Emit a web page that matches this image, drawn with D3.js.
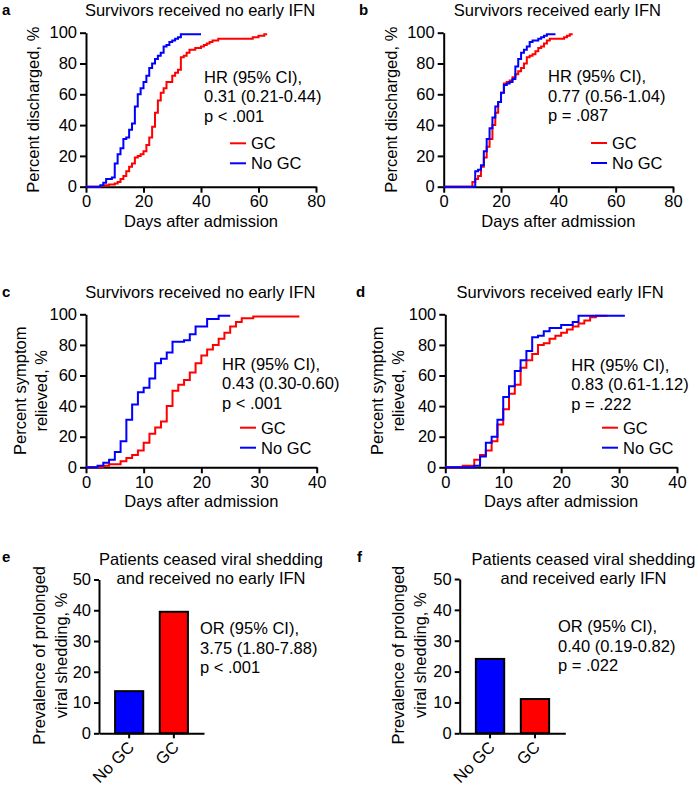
<!DOCTYPE html>
<html>
<head>
<meta charset="utf-8">
<script src="https://cdn.jsdelivr.net/npm/d3@7"></script>
<style>
  body { margin: 0; background: #fff; }
  svg { display: block; font-family: "Liberation Sans", Arial, sans-serif; }
</style>
</head>
<body>
<svg id="fig" width="698" height="790"></svg>
<script>
// ---- data ----
// a: discharge, no early IFN
const aGcDays = [0,5,6,8,10,11,12,13,14,15,16,17,18,19,20,21,22,23,24,25,26,27,28,30,31,32,33,34,35,36,38,40,41,42,43,44,46,58,60,62,63];
const aGcPct  = [0,0.5,1,1.5,2,3,5,7,10,13,15,19,20,21,23,27,32,39,48,56,61,64,68,72,74,76,84,85,87,89,90,91,92,93,94,95,96,97,98,99,99];
const aNoDays = [0,5,6,7,9,10,11,12,13,14,15,16,17,18,19,20,21,22,23,24,25,26,27,28,29,30,31,32,33,40];
const aNoPct  = [0,1,2.5,5,6,15,21,25,31,32,37,41,52,60,64,68,72,77,80,83,85,87,91,92,94,95,96,97,99,99];
// b: discharge, early IFN
const bGcDays = [0,10,11,12,13,14,15,16,17,18,19,20,21,22,23,24,25,26,27,28,29,30,31,32,33,34,35,36,37,42,43,44,45];
const bGcPct  = [0,3,5,7,13,19,26,31,40,48,55,61,67,68,69,71,73,75,77,80,84,85,86,88,90,91,93,95,96,97,98,99,99];
const bNoDays = [0,11,12,13,14,15,16,17,18,19,20,21,22,23,24,25,26,27,28,29,30,31,33,34,35,36,39];
const bNoPct  = [0,10,11,14,23,31,38,45,52,55,61,66,67,68,70,78,83,87,89,91,94,95,96,97,98,99,99];
// c: symptom relief, no early IFN
const cGcDays = [0,3,4,6,7,8,9,10,11,12,13,14,15,16,17,18,19,20,21,22,23,24,25,26,27,29,37];
const cGcPct  = [0,1,2,4,6,8,11,16,22,26,30,40,50,54,57,62,68,73,77,80,84,88,92,95,97.5,98.5,98.5];
const cNoDays = [0,2,3,4,5,6,7,8,9,10,11,12,13,14,15,17,18,19,21,23,25];
const cNoPct  = [0,1,3,5,10,17,31,41,49,52,58,68,71,75,82,83,87,92,97,99,99];
// d: symptom relief, early IFN
const dGcDays = [0,3,5,6,7,8,9,10,11,12,13,14,15,16,17,18,19,20,21,22,23,24,25,26,28];
const dGcPct  = [0,1,5,8,11,17,28,38,48,54,65,70,74,80,81,84,86,88,90,92,94,96,98,99,99];
const dNoDays = [0,5,6,7,8,9,10,11,12,13,14,15,16,17,18,20,22,23,31];
const dNoPct  = [0,1,7,16,20,31,46,53,63,70,76,85,86,89,91,93,95,99,99];
// e, f: prolonged viral shedding
const barCats = ["No GC", "GC"];
const eVals = [13.7, 39.5];
const fVals = [24.1, 11.1];

const kmTicks80 = [0, 20, 40, 60, 80];
const kmTicks40 = [0, 10, 20, 30, 40];
const pctTicks = [0, 20, 40, 60, 80, 100];
const barTicks = [0, 10, 20, 30, 40, 50];

const RED = "#ff0000", BLUE = "#0000ff";
const FS = 16.5;

const svg = d3.select("#fig");

function styleAxis(g) {
  g.selectAll("path.domain").attr("stroke", "#000").attr("stroke-width", 2);
  g.selectAll(".tick line").attr("stroke", "#000").attr("stroke-width", 2);
  g.selectAll(".tick text").attr("fill", "#000").style("font-size", FS + "px")
    .style("font-family", "'Liberation Sans', Arial, sans-serif");
}

function txt(x, y, s, opt = {}) {
  return svg.append("text")
    .attr("x", x).attr("y", y)
    .attr("text-anchor", opt.anchor || "start")
    .style("font-size", (opt.size || FS) + "px")
    .style("font-weight", opt.bold ? "bold" : "normal")
    .text(s);
}

function vlabel(x, y, s) {
  svg.append("text")
    .attr("transform", `translate(${x},${y}) rotate(-90)`)
    .attr("text-anchor", "middle")
    .style("font-size", FS + "px")
    .text(s);
}

function km(p) {
  const x = d3.scaleLinear().domain([0, p.xMax]).range([p.x0, p.x1]);
  const y = d3.scaleLinear().domain([0, 100]).range([p.y0, p.y1]);

  styleAxis(svg.append("g").attr("transform", `translate(0,${p.y0})`)
    .call(d3.axisBottom(x).tickValues(p.xTicks).tickSize(6).tickSizeOuter(0).tickPadding(3)));
  styleAxis(svg.append("g").attr("transform", `translate(${p.x0},0)`)
    .call(d3.axisLeft(y).tickValues(pctTicks).tickSize(6).tickSizeOuter(0).tickPadding(3)));

  const line = d3.line().x(d => x(d[0])).y(d => y(d[1])).curve(d3.curveStepAfter);
  [[p.gcDays, p.gcPct, RED], [p.noDays, p.noPct, BLUE]].forEach(([ds, vs, c]) => {
    svg.append("path").datum(d3.zip(ds, vs))
      .attr("d", line).attr("fill", "none")
      .attr("stroke", c).attr("stroke-width", 2);
  });

  txt(p.letterX, p.titleY - 1, p.letter, { bold: true, size: 15 });
  txt((p.x0 + p.x1) / 2 - 1, p.titleY, p.title, { anchor: "middle" });
  txt((p.x0 + p.x1) / 2, p.y0 + 40, "Days after admission", { anchor: "middle" });
  p.ylab.forEach((s, i) => vlabel(p.ylabX[i], (p.y0 + p.y1) / 2, s));
  p.stats.forEach((s, i) => txt(p.statX, p.statY + i * 19.5, s));

  [["GC", RED], ["No GC", BLUE]].forEach(([s, c], i) => {
    const ly = p.legY + i * 20;
    svg.append("line").attr("x1", p.legX).attr("x2", p.legX + 16)
      .attr("y1", ly).attr("y2", ly).attr("stroke", c).attr("stroke-width", 2);
    txt(p.legX + 21, ly + 6, s);
  });
}

function bars(p) {
  const x = d3.scaleBand().domain(barCats).range([p.x0, p.x1]).paddingInner(0.37).paddingOuter(0.36);
  const y = d3.scaleLinear().domain([0, 50]).range([p.y0, p.y1]);

  svg.append("g").selectAll("rect").data(p.vals).join("rect")
    .attr("x", (d, i) => x(barCats[i])).attr("width", x.bandwidth())
    .attr("y", d => y(d)).attr("height", d => p.y0 - y(d))
    .attr("fill", (d, i) => i === 0 ? BLUE : RED)
    .attr("stroke", "#000").attr("stroke-width", 2);

  const ya = svg.append("g").attr("transform", `translate(${p.x0},0)`)
    .call(d3.axisLeft(y).tickValues(barTicks).tickSize(5).tickSizeOuter(0).tickPadding(3));
  styleAxis(ya);
  const xa = svg.append("g").attr("transform", `translate(0,${p.y0})`)
    .call(d3.axisBottom(x).tickSize(5).tickSizeOuter(0));
  styleAxis(xa);
  xa.selectAll(".tick text")
    .attr("text-anchor", "end").attr("dy", null).attr("y", null)
    .attr("transform", "translate(6,15) rotate(-45)");

  txt(p.letterX, 562, p.letter, { bold: true, size: 15 });
  p.title.forEach((s, i) => txt(p.titleX, 565 + i * 19.3, s, { anchor: "middle" }));
  p.ylab.forEach((s, i) => vlabel(p.ylabX[i], (p.y0 + p.y1) / 2 - 1, s));
  p.stats.forEach((s, i) => txt(p.statX, p.statY + i * 19.5, s));
}

km({
  letter: "a", letterX: 2, titleY: 16, title: "Survivors received no early IFN",
  x0: 86, x1: 316, y0: 186.7, y1: 32.7, xMax: 80, xTicks: kmTicks80,
  gcDays: aGcDays, gcPct: aGcPct, noDays: aNoDays, noPct: aNoPct,
  ylab: ["Percent discharged, %"], ylabX: [39],
  stats: ["HR (95% CI),", "0.31 (0.21-0.44)", "p < .001"], statX: 204, statY: 82.7,
  legX: 230, legY: 143.3
});
km({
  letter: "b", letterX: 359, titleY: 16, title: "Survivors received early IFN",
  x0: 443.7, x1: 673, y0: 186.7, y1: 32.7, xMax: 80, xTicks: kmTicks80,
  gcDays: bGcDays, gcPct: bGcPct, noDays: bNoDays, noPct: bNoPct,
  ylab: ["Percent discharged, %"], ylabX: [397],
  stats: ["HR (95% CI),", "0.77 (0.56-1.04)", "p = .087"], statX: 548, statY: 82.2,
  legX: 591, legY: 143
});
km({
  letter: "c", letterX: 2, titleY: 298, title: "Survivors received no early IFN",
  x0: 86, x1: 316.7, y0: 467.3, y1: 314.3, xMax: 40, xTicks: kmTicks40,
  gcDays: cGcDays, gcPct: cGcPct, noDays: cNoDays, noPct: cNoPct,
  ylab: ["Percent symptom", "relieved, %"], ylabX: [26, 47],
  stats: ["HR (95% CI),", "0.43 (0.30-0.60)", "p < .001"], statX: 222, statY: 369.5,
  legX: 240, legY: 427.7
});
km({
  letter: "d", letterX: 356, titleY: 298, title: "Survivors received early IFN",
  x0: 445.3, x1: 677, y0: 467.3, y1: 314.3, xMax: 40, xTicks: kmTicks40,
  gcDays: dGcDays, gcPct: dGcPct, noDays: dNoDays, noPct: dNoPct,
  ylab: ["Percent symptom", "relieved, %"], ylabX: [383, 404],
  stats: ["HR (95% CI),", "0.83 (0.61-1.12)", "p = .222"], statX: 571.3, statY: 370.5,
  legX: 602, legY: 427.7
});
bars({
  letter: "e", letterX: 2, vals: eVals,
  x0: 99, x1: 204, y0: 733.3, y1: 579.5,
  title: ["Patients ceased viral shedding", "and received no early IFN"], titleX: 211,
  ylab: ["Prevalence of prolonged", "viral shedding, %"], ylabX: [45, 67],
  stats: ["OR (95% CI),", "3.75 (1.80-7.88)", "p < .001"], statX: 200, statY: 634
});
bars({
  letter: "f", letterX: 357, vals: fVals,
  x0: 459.7, x1: 565.3, y0: 733.3, y1: 579,
  title: ["Patients ceased viral shedding", "and received early IFN"], titleX: 583.5,
  ylab: ["Prevalence of prolonged", "viral shedding, %"], ylabX: [404, 426],
  stats: ["OR (95% CI),", "0.40 (0.19-0.82)", "p = .022"], statX: 558, statY: 632.3
});
</script>
</body>
</html>
